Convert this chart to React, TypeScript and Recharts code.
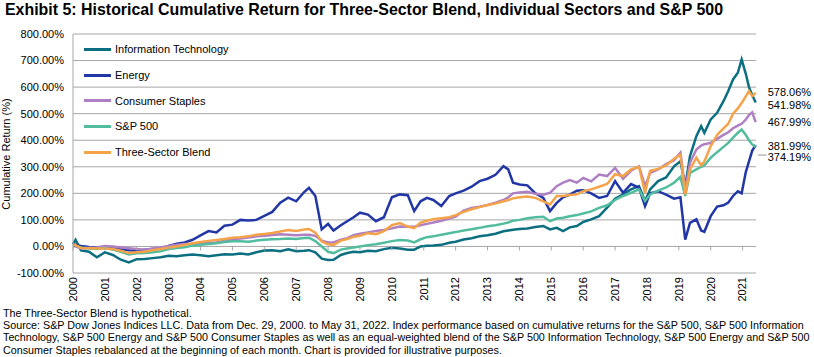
import { CartesianGrid, Line, LineChart, XAxis, YAxis } from "recharts";

const years = [
  2000.0, 2000.08, 2000.25, 2000.5, 2000.75, 2001.0, 2001.25, 2001.5, 2001.75, 2002.0,
  2002.25, 2002.5, 2002.75, 2003.0, 2003.25, 2003.5, 2003.75, 2004.0, 2004.25, 2004.5,
  2004.75, 2005.0, 2005.25, 2005.5, 2005.75, 2006.0, 2006.25, 2006.5, 2006.75, 2007.0,
  2007.25, 2007.4, 2007.6, 2007.8, 2008.0, 2008.17, 2008.4, 2008.6, 2008.8, 2009.0,
  2009.25, 2009.5, 2009.75, 2010.0, 2010.25, 2010.5, 2010.7, 2010.9, 2011.1, 2011.3,
  2011.55, 2011.8, 2012.0, 2012.25, 2012.5, 2012.75, 2013.0, 2013.25, 2013.5, 2013.65,
  2013.8, 2014.0, 2014.25, 2014.5, 2014.75, 2014.96, 2015.17, 2015.37, 2015.58, 2015.8,
  2016.0, 2016.25, 2016.5, 2016.75, 2017.0, 2017.25, 2017.5, 2017.75, 2017.94, 2018.1,
  2018.35, 2018.6, 2018.85, 2019.05, 2019.2, 2019.35, 2019.55, 2019.7, 2019.8, 2020.0,
  2020.2, 2020.4, 2020.55, 2020.7, 2020.85, 2020.97, 2021.1, 2021.2, 2021.3, 2021.41,
];

const itValues = [
  9, 25, -15, -20, -41, -22, -32, -50, -60, -48,
  -47, -44, -41, -35, -37, -33, -30, -33, -37, -33,
  -29, -30, -27, -30, -22, -15, -14, -18, -11, -18,
  -16, -14, -22, -46, -51, -50, -32, -25, -20, -22,
  -16, -18, -10, -5, -8, -12, -12, 0, 3, 4,
  6, 14, 18, 26, 31, 38, 42, 48, 57, 60,
  63, 66, 68, 73, 77, 64, 70, 58, 72, 77,
  92, 102, 114, 146, 180, 196, 215, 227, 171, 215,
  246, 260, 302, 321, 227, 340, 415, 453, 428, 478,
  503, 547, 585, 629, 654, 704, 650, 600, 570, 541.98,
];

const energyValues = [
  9, 6, 2, -2, -4, -3, -6, -10, -14, -16,
  -12, -10, -8, 2, 10, 15, 25, 42, 58, 53,
  78, 82, 100, 98, 100, 115, 130, 165, 184, 170,
  205, 221, 190, 64, 85, 60, 80, 95, 110, 127,
  120, 95, 110, 185, 196, 193, 133, 170, 183, 175,
  152, 190, 200, 210, 225, 246, 255, 270, 302, 290,
  240, 233, 230, 200, 183, 133, 164, 185, 195, 210,
  212, 200, 183, 190, 246, 202, 235, 221, 152, 200,
  208, 195, 180, 185, 26, 89, 102, 60, 55, 114,
  150, 155, 165, 190, 208, 200, 280, 320, 360, 381.99,
];

const staplesValues = [
  2, 0, -8, -5, -4, 2, 0, -4, -7, -10,
  -12, -8, -4, 2, 6, 9, 10, 12, 13, 15,
  22, 27, 30, 34, 38, 40, 43, 46, 44, 42,
  44, 44, 40, 22, 15, 15, 25, 31, 42, 48,
  53, 58, 62, 68, 75, 74, 74, 80, 85, 90,
  97, 105, 112, 135, 145, 150, 156, 165, 175, 185,
  200, 203, 206, 198, 195, 202, 227, 240, 250, 240,
  258, 245, 271, 265, 296, 255, 285, 302, 227, 277,
  290, 310, 325, 353, 215, 315, 365, 380, 385, 390,
  405, 420, 430, 445, 455, 462, 478, 495, 505, 467.99,
];

const sp500Values = [
  5, 3, -4, -8, -10, -6, -12, -20, -30, -26,
  -25, -22, -18, -10, -6, -3, 3, 6, 9, 12,
  17, 20, 20, 18, 22, 25, 27, 28, 30, 28,
  32, 33, 20, 0, -20, -25, -12, -8, -4, 0,
  5, 8, 14, 20, 24, 22, 15, 27, 35, 38,
  44, 50, 54, 60, 65, 70, 76, 80, 86, 90,
  97, 100, 106, 110, 112, 95, 105, 108, 114, 118,
  124, 132, 145, 155, 175, 190, 202, 215, 171, 196,
  210, 222, 240, 262, 190, 277, 290, 300, 305, 334,
  355, 375, 390, 410, 428, 440, 420, 400, 384, 374.19,
];

const blendValues = [
  9, 5, -6, -7, -8, -8, -10, -16, -25, -22,
  -20, -14, -10, -4, 0, 6, 12, 17, 21, 24,
  28, 33, 35, 38, 44, 47, 51, 56, 62, 58,
  64, 66, 52, 19, 8, 6, 22, 28, 36, 40,
  50, 46, 58, 80, 88, 75, 69, 90, 97, 102,
  106, 110, 118, 130, 140, 148, 156, 162, 170, 175,
  181, 185, 188, 183, 170, 158, 190, 190, 194, 196,
  208, 215, 225, 235, 272, 265, 290, 300, 202, 285,
  292, 305, 330, 346, 196, 290, 334, 305, 320, 378,
  420, 445, 462, 500, 520, 540, 565, 585, 566, 578.06,
];

const xTicks = [
  2000, 2001, 2002, 2003, 2004, 2005, 2006, 2007, 2008, 2009, 2010,
  2011, 2012, 2013, 2014, 2015, 2016, 2017, 2018, 2019, 2020, 2021,
];
const yTicks = [-100, 0, 100, 200, 300, 400, 500, 600, 700, 800];

const data = years.map((year, i) => ({
  year,
  it: itValues[i],
  energy: energyValues[i],
  staples: staplesValues[i],
  sp500: sp500Values[i],
  blend: blendValues[i],
}));

const W = 814;
const H = 305;
const MARGIN = { top: 34, right: 58, bottom: 0, left: 8 };
const X_AXIS_H = 32;
const Y_MIN = -100;
const Y_MAX = 800;
const PLOT_H = H - MARGIN.top - MARGIN.bottom - X_AXIS_H;
const ZERO_Y = MARGIN.top + (PLOT_H * Y_MAX) / (Y_MAX - Y_MIN);

const FONT = '"Liberation Sans", Arial, sans-serif';
const GRID = "#a6a6a6";

const series = [
  { key: "it", name: "Information Technology", color: "#0b6f81", dy: 6, leader: false },
  { key: "energy", name: "Energy", color: "#2237a5", dy: 5, leader: false },
  { key: "staples", name: "Consumer Staples", color: "#ae7fc3", dy: 4, leader: false },
  { key: "sp500", name: "S&P 500", color: "#52bd9e", dy: 14, leader: true },
  { key: "blend", name: "Three-Sector Blend", color: "#f4a34a", dy: 3, leader: false },
];

function XTick({ x, y, payload }: any) {
  return (
    <g>
      <line x1={x} x2={x} y1={ZERO_Y} y2={ZERO_Y + 4} stroke={GRID} />
      <text
        x={x}
        y={y + 4}
        dy="0.35em"
        textAnchor="end"
        transform={`rotate(-90, ${x}, ${y + 4})`}
        fontFamily={FONT}
        fontSize={11}
        fill="#000"
      >
        {payload.value}
      </text>
    </g>
  );
}

function endLabel(dy: number, leader: boolean) {
  return (props: any) => {
    if (props.index !== years.length - 1) return null;
    const { x, y, value } = props;
    return (
      <g>
        {leader && <line x1={x + 2} x2={x + 11} y1={y + 8} y2={y + 8} stroke="#999" />}
        <text x={x + 12} y={y + dy} fontFamily={FONT} fontSize={11} fill="#000">
          {`${Number(value).toFixed(2)}%`}
        </text>
      </g>
    );
  };
}

const footLines = [
  "The Three-Sector Blend is hypothetical.",
  "Source: S&P Dow Jones Indices LLC. Data from Dec. 29, 2000. to May 31, 2022. Index performance based on cumulative returns for the S&P 500, S&P 500 Information",
  "Technology, S&P 500 Energy and S&P 500 Consumer Staples as well as an equal-weighted blend of the S&P 500 Information Technology, S&P 500 Energy and S&P 500",
  "Consumer Staples rebalanced at the beginning of each month. Chart is provided for illustrative purposes.",
];
const footBase = [316.5, 329, 341.2, 353.6];

export default function App() {
  return (
    <div style={{ position: "absolute", left: 0, top: 0, width: W, height: 357, background: "#fff", overflow: "hidden" }}>
      <svg width={W} height={357} style={{ position: "absolute", left: 0, top: 0 }}>
        <text x={5} y={14.5} fontFamily={FONT} fontWeight="bold" fontSize={16.5} textLength={718} lengthAdjust="spacingAndGlyphs" fill="#000">
          Exhibit 5: Historical Cumulative Return for Three-Sector Blend, Individual Sectors and S&amp;P 500
        </text>
        <text
          x={0}
          y={0}
          transform="translate(10, 154) rotate(-90)"
          textAnchor="middle"
          fontFamily={FONT}
          fontSize={11}
          fill="#000"
        >
          Cumulative Return (%)
        </text>
        {footLines.map((t, i) => (
          <text key={i} x={3} y={footBase[i]} fontFamily={FONT} fontSize={10.75} fill="#000">
            {t}
          </text>
        ))}
      </svg>
      <div style={{ position: "absolute", left: 0, top: 0 }}>
        <LineChart width={W} height={H} data={data} margin={MARGIN}>
          <CartesianGrid vertical={false} stroke={GRID} />
          <XAxis
            dataKey="year"
            type="number"
            domain={[2000, 2021.42]}
            ticks={xTicks}
            interval={0}
            height={X_AXIS_H}
            axisLine={false}
            tickLine={false}
            tickSize={0}
            tickMargin={0}
            tick={<XTick />}
          />
          <YAxis
            type="number"
            domain={[Y_MIN, Y_MAX]}
            ticks={yTicks}
            interval={0}
            width={65}
            axisLine={{ stroke: GRID }}
            tickLine={false}
            tickSize={0}
            tickMargin={9}
            tick={{ fontFamily: FONT, fontSize: 11, fill: "#000" }}
            tickFormatter={(v: number) => `${v.toFixed(2)}%`}
          />
          {series.map((s) => (
            <Line
              key={s.key}
              type="linear"
              dataKey={s.key}
              name={s.name}
              stroke={s.color}
              strokeWidth={2.5}
              dot={false}
              activeDot={false}
              isAnimationActive={false}
              label={endLabel(s.dy, s.leader)}
            />
          ))}
        </LineChart>
      </div>
      <div style={{ position: "absolute", left: 84, top: 36.5, fontFamily: FONT, fontSize: 11, color: "#000" }}>
        {series.map((s) => (
          <div key={s.key} style={{ display: "flex", alignItems: "center", height: 25.7 }}>
            <span style={{ width: 27, height: 3, background: s.color, marginRight: 4 }} />
            <span>{s.name}</span>
          </div>
        ))}
      </div>
    </div>
  );
}
